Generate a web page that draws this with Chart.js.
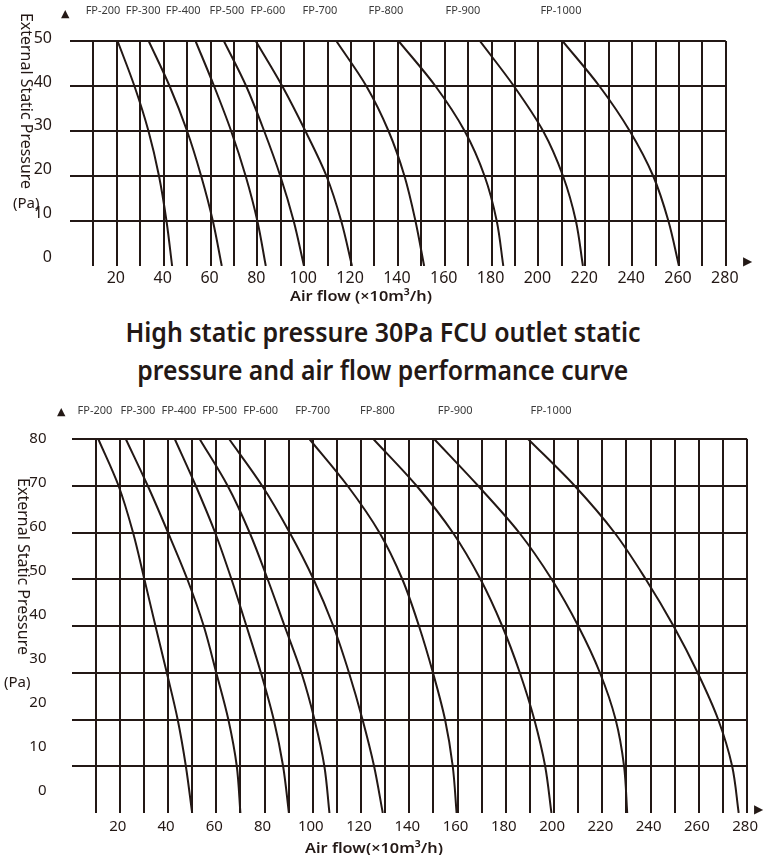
<!DOCTYPE html>
<html>
<head>
<meta charset="utf-8">
<script src="https://cdn.jsdelivr.net/npm/chart.js@4"></script>
<style>
  body { margin: 0; background: #fff; }
  #page { position: relative; width: 765px; height: 855px; overflow: hidden;
          font-family: "Noto Sans", sans-serif; color: #231815; }
  canvas { position: absolute; left: 0; }
  .txt { position: absolute; white-space: nowrap; line-height: 1; }
  .vert { writing-mode: vertical-rl; font-size: 16px; transform-origin: center top; }
  .pa { font-size: 15px; }
  .axis { font-size: 15px; font-weight: 600; transform-origin: left center; }
  .arrow { font-family: "DejaVu Sans", sans-serif; font-size: 11px; }
  .title { left: 0; width: 765px; text-align: center; font-size: 27px; font-weight: 600; line-height: 36px; }
  .title span { display: inline-block; transform-origin: center; }
</style>
</head>
<body>
<div id="page">
  <canvas id="lowChart" width="765" height="310" style="top:0"></canvas>
  <canvas id="highChart" width="765" height="455" style="top:400px"></canvas>

  <div class="txt arrow" style="left:61px;top:8px">▲</div>
  <div class="txt arrow" style="left:743px;top:255px;font-size:12px">▶</div>
  <div class="txt vert" id="yLow" style="left:19px;top:13px">External Static Pressure</div>
  <div class="txt pa" style="left:13px;top:195px">(Pa)</div>
  <div class="txt axis" id="axisLow" style="left:290px;top:288px">Air flow (×10m³/h)</div>

  <div class="txt title" style="top:314px"><span id="t1">High static pressure 30Pa FCU outlet static</span></div>
  <div class="txt title" style="top:352px"><span id="t2">pressure and air flow performance curve</span></div>

  <div class="txt arrow" style="left:57px;top:406px">▲</div>
  <div class="txt arrow" style="left:754px;top:803px;font-size:12px">▶</div>
  <div class="txt vert" id="yHigh" style="left:16px;top:478px">External Static Pressure</div>
  <div class="txt pa" style="left:4px;top:674px">(Pa)</div>
  <div class="txt axis" id="axisHigh" style="left:305px;top:840px">Air flow(×10m³/h)</div>
</div>

<script>
const models = ['FP-200', 'FP-300', 'FP-400', 'FP-500', 'FP-600', 'FP-700', 'FP-800', 'FP-900', 'FP-1000'];
const flowLabels = [20, 40, 60, 80, 100, 120, 140, 160, 180, 200, 220, 240, 260, 280];

// upper chart: air flow at each pressure step (Pa)
const lowPress = [50, 40, 30, 20, 10, 0];
const lowPressLabels = [0, 10, 20, 30, 40, 50];
const lowLabelAt = [14.1, 31.2, 48.3, 67.0, 84.5, 106.7, 134.9, 167.8, 209.6];
const low200 = [20.3, 27.5, 33.5, 38.0, 41.2, 43.6];
const low300 = [33.6, 42.5, 50.0, 56.0, 61.0, 64.8];
const low400 = [53.6, 61.5, 68.8, 75.0, 80.0, 83.6];
const low500 = [65.7, 75.2, 82.9, 89.8, 95.5, 99.9];
const low600 = [79.3, 90.6, 100.5, 109.5, 115.8, 120.4];
const low700 = [113.7, 126.5, 136.0, 142.8, 147.5, 151.2];
const low800 = [140.3, 156.0, 168.5, 177.0, 182.2, 185.0];
const low900 = [175.0, 189.5, 202.0, 210.5, 216.0, 219.0];
const low1000 = [210.3, 226.0, 239.0, 249.0, 255.5, 260.0];

// lower chart: high static pressure units
const highPress = [80, 70, 60, 50, 40, 30, 20, 10, 0];
const highPressLabels = [0, 10, 20, 30, 40, 50, 60, 70, 80];
const highLabelAt = [9.7, 27.5, 44.5, 61.4, 78.4, 99.9, 126.8, 159.0, 198.7];
const high200 = [11.1, 19.5, 25.5, 30.2, 34.8, 39.5, 44.0, 47.4, 50.0];
const high300 = [22.5, 31.6, 40.0, 48.0, 54.8, 60.0, 65.0, 68.5, 70.0];
const high400 = [42.8, 51.5, 59.5, 66.3, 72.5, 78.5, 83.8, 87.7, 90.1];
const high500 = [53.1, 64.7, 73.8, 81.3, 88.3, 95.3, 100.7, 104.8, 106.9];
const high600 = [65.3, 79.0, 90.4, 100.3, 108.5, 115.0, 120.6, 125.4, 129.0];
const high700 = [98.6, 114.4, 127.6, 137.1, 144.0, 149.8, 154.8, 158.0, 159.6];
const high800 = [125.1, 143.0, 158.0, 169.5, 178.5, 185.8, 191.8, 196.3, 198.9];
const high900 = [150.3, 168.5, 185.5, 199.0, 210.0, 219.0, 225.5, 229.0, 230.3];
const high1000 = [189.2, 208.5, 225.0, 238.0, 249.5, 259.5, 268.0, 273.8, 276.5];

const ink = '#231815';
Chart.defaults.font.family = '"Noto Sans", sans-serif';
Chart.defaults.color = ink;

// no grid line on the zero value, as in the print
const gridInk = c => (c.tick && c.tick.value === 0) ? 'rgba(0,0,0,0)' : ink;

function fanChart(id, o) {
  return new Chart(document.getElementById(id), {
    type: 'line',
    data: {
      datasets: o.series.map((s, i) => ({
        label: models[i],
        data: s.map((f, j) => ({ x: f, y: o.press[j] })),
        borderColor: ink,
        borderWidth: 2,
        pointRadius: 0,
        fill: false,
        cubicInterpolationMode: 'monotone'
      }))
    },
    options: {
      indexAxis: 'y', // flow is read as a function of pressure
      responsive: false,
      animation: false,
      layout: { padding: { right: o.right } },
      plugins: { legend: { display: false }, tooltip: { enabled: false } },
      scales: {
        x: {
          type: 'linear', position: 'bottom', min: 0, max: 280,
          ticks: {
            stepSize: 10, autoSkip: false, maxRotation: 0, padding: o.xPad, labelOffset: o.xShift,
            font: { size: o.xFont },
            callback: v => flowLabels.includes(v) ? v : ''
          },
          grid: { color: gridInk, lineWidth: 2, drawTicks: false },
          border: { display: false },
          afterFit: s => { s.height = o.xH; }
        },
        names: {
          type: 'linear', position: 'top', min: 0, max: 280,
          afterBuildTicks: s => { s.ticks = o.labelAt.map(v => ({ value: v })); },
          ticks: {
            autoSkip: false, maxRotation: 0, padding: o.topPad, color: '#3a3a3a',
            font: { size: 11 },
            callback: (v, i) => models[i]
          },
          grid: { display: false },
          border: { display: false },
          afterFit: s => { s.height = o.topH; }
        },
        y: {
          type: 'linear', position: 'left', min: 0, max: o.pMax,
          ticks: { display: false, stepSize: 10 },
          grid: { color: gridInk, lineWidth: 2, drawTicks: false },
          border: { display: false },
          afterFit: s => { s.width = 0; }
        },
        yl: {
          type: 'linear', position: 'left', min: o.lMin, max: o.lMax,
          afterBuildTicks: s => { s.ticks = o.pLabels.map(v => ({ value: v })); },
          ticks: { padding: o.yPad, font: { size: o.yFont } },
          grid: { display: false },
          border: { display: false },
          afterFit: s => { s.width = o.left; }
        }
      }
    }
  });
}

fanChart('lowChart', {
  series: [low200, low300, low400, low500, low600, low700, low800, low900, low1000],
  press: lowPress, pLabels: lowPressLabels, labelAt: lowLabelAt,
  pMax: 50, lMin: -2, lMax: 49.4,
  left: 70, right: 39.2, topH: 41, xH: 44,
  xPad: 3, xShift: -1, topPad: 16, yPad: 10, xFont: 16, yFont: 16
});

fanChart('highChart', {
  series: [high200, high300, high400, high500, high600, high700, high800, high900, high1000],
  press: highPress, pLabels: highPressLabels, labelAt: highLabelAt,
  pMax: 80, lMin: -5, lMax: 80,
  left: 71.5, right: 16.5, topH: 39, xH: 42,
  xPad: 5, xShift: -2, topPad: 14, yPad: 17, xFont: 15, yFont: 15
});

// squeeze the wide fallback font to the printed widths
function fit(id, size, vertical) {
  const el = document.getElementById(id);
  const box = el.getBoundingClientRect();
  el.style.transform = vertical
    ? 'scaleY(' + (size / box.height) + ')'
    : 'scaleX(' + (size / box.width) + ')';
}
fit('t1', 515);
fit('t2', 491);
fit('axisLow', 142);
fit('axisHigh', 138);
fit('yLow', 176, true);
fit('yHigh', 177, true);
</script>
</body>
</html>
